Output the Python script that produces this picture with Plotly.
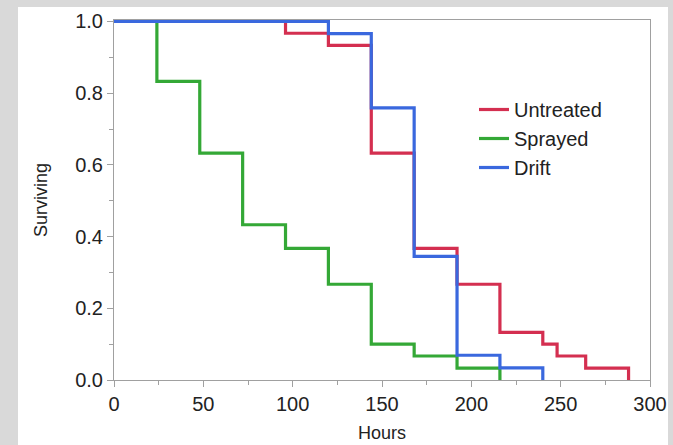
import plotly.graph_objects as go

# Data (step functions, Kaplan-Meier style)
untreated_hours = [0, 96, 120, 144, 168, 192, 216, 240, 248, 264, 288]
untreated_surv = [1.0, 0.967, 0.933, 0.633, 0.367, 0.267, 0.133, 0.1, 0.067, 0.033, 0.0]

sprayed_hours = [0, 24, 48, 72, 96, 120, 144, 168, 192, 216]
sprayed_surv = [1.0, 0.833, 0.633, 0.433, 0.367, 0.267, 0.1, 0.067, 0.033, 0.0]

drift_hours = [0, 120, 144, 168, 192, 216, 240]
drift_surv = [1.0, 0.966, 0.759, 0.345, 0.069, 0.034, 0.0]

FONT = "Liberation Sans"
W, H = 673, 445
L, R, T, B = 114, 23, 20, 65

fig = go.Figure()
series = [
    ("Untreated", untreated_hours, untreated_surv, "#d42f50"),
    ("Sprayed", sprayed_hours, sprayed_surv, "#34a836"),
    ("Drift", drift_hours, drift_surv, "#3a68de"),
]
for name, xs, ys, col in series:
    fig.add_trace(go.Scatter(x=xs, y=ys, name=name, mode="lines",
                             line=dict(shape="hv", color=col, width=3.2)))

pw = W - L - R
ph = H - T - B
def px2x(px):
    return (px - L) / pw
def py2y(py):
    return (H - B - py) / ph

fig.add_shape(type="rect", xref="paper", yref="paper",
              x0=px2x(18), x1=px2x(668), y0=py2y(460), y1=py2y(7),
              fillcolor="white", line=dict(width=0), layer="below")

fig.update_layout(
    width=W, height=H,
    margin=dict(l=L, r=R, t=T, b=B, autoexpand=False),
    paper_bgcolor="#d9d9d9",
    plot_bgcolor="white",
    font=dict(family=FONT, size=19, color="#222222"),
    legend=dict(x=px2x(474), y=py2y(90), xanchor="left", yanchor="top",
                bgcolor="rgba(0,0,0,0)", font=dict(size=20, color="#222222"),
                tracegroupgap=0),
    xaxis=dict(range=[0, 300], tickmode="linear", tick0=0, dtick=50,
               ticks="outside", ticklen=6, automargin=False,
               tickcolor="#a0a0a0", showline=True, mirror=True,
               linecolor="#a0a0a0", linewidth=1, showgrid=False, zeroline=False,
               minor=dict(tickmode="linear", tick0=0, dtick=25, ticks="outside",
                          ticklen=4, tickcolor="#a0a0a0", showgrid=False),
               title=dict(text="Hours", font=dict(size=18), standoff=12),
               tickfont=dict(size=20)),
    yaxis=dict(range=[0, 1.004], tickmode="linear", tick0=0, dtick=0.2,
               tickformat=".1f", automargin=False,
               ticks="outside", ticklen=6, tickcolor="#a0a0a0",
               showline=True, mirror=True, linecolor="#a0a0a0", linewidth=1,
               showgrid=False, zeroline=False,
               minor=dict(tickmode="linear", tick0=0, dtick=0.1, ticks="outside",
                          ticklen=4, tickcolor="#a0a0a0", showgrid=False),
               title=dict(text="Surviving", font=dict(size=18), standoff=22),
               tickfont=dict(size=20)),
)

fig.write_html("out.html",
               config={"displayModeBar": False},
               post_script="document.body.style.margin='0';"
                           "document.body.style.background='#d9d9d9';")
